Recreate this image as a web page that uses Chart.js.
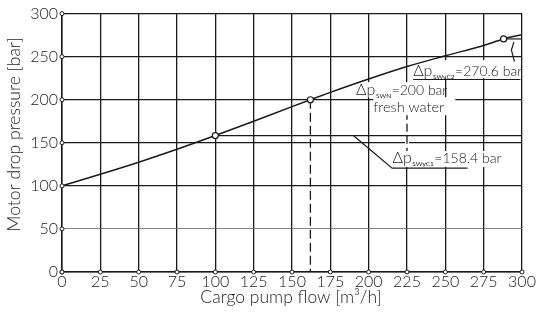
<!DOCTYPE html>
<html><head><meta charset="utf-8">
<script src="https://cdn.jsdelivr.net/npm/chart.js@4.4.0/dist/chart.umd.min.js"></script>
<style>html,body{margin:0;padding:0;background:#fff;}canvas{display:block;}</style>
</head><body>
<canvas id="c" width="547" height="315"></canvas>
<script>
// ---- data ----
const flow      = [0, 25, 50, 75, 100, 125, 150, 162, 175, 200, 225, 250, 275, 288, 300];
const pressure  = [100, 113.5, 127.5, 142.5, 158.4, 175, 192, 200, 208.5, 224, 238.5, 251, 263, 270.6, 275.5];
const markFlow     = [100, 162, 288];
const markPressure = [158.4, 200, 270.6];
const xTickStep = 25, xMin = 0, xMax = 300;
const yTickStep = 50, yMin = 0, yMax = 300;
const xTitle = 'Cargo pump flow [m³/h]';
const yTitle = 'Motor drop pressure [bar]';

// ---- annotation layout (data units) ----
const notes = {
  labels: [
    {x: 229, y: 227,   main: 'Δp', sub: 'SWyC2', rest: '=270.6 bar'},
    {x: 191.8, y: 205.2, main: 'Δp', sub: 'SWN',  rest: '=200 bar'},
    {x: 203, y: 185.7, main: 'fresh water', sub: '', rest: ''},
    {x: 215.5, y: 126.1, main: 'Δp', sub: 'SWyC1', rest: '=158.4 bar'}
  ],
  masks: [
    [229, 298.5, 246, 225],
    [191, 249, 220.5, 202.5],
    [203, 256.5, 203, 182],
    [215, 277, 140.5, 122]
  ],
  lines: [
    [[190, 158.4], [215.3, 120.6], [264.5, 120.6]],
    [[229, 223.5], [299, 223.5]],
    [[294.7, 267.2], [293.1, 257.6], [295.1, 244.3]],
    [[100, 158.4], [300, 158.4]],
    [[288, 270.6], [300, 270.6]]
  ],
  dashed: [
    [[162, 200], [162, 0]]
  ],
  dashedGrid: {x: 225, from: 200, to: 121.5}
};

const ink = '#1a1a1a';
const FONT = 'Lato';
const W = '300';

const curve = flow.map((f, i) => ({x: f, y: pressure[i]}));
const marks = markFlow.map((f, i) => ({x: f, y: markPressure[i]}));

const deco = {
  id: 'deco',
  beforeDatasetsDraw(chart) {
    const {ctx, scales: {x, y}} = chart;
    const X = v => x.getPixelForValue(v), Y = v => y.getPixelForValue(v);
    ctx.save();
    const g = notes.dashedGrid;
    ctx.fillStyle = '#fff';
    ctx.fillRect(X(g.x) - 2, Y(g.from), 4, Y(g.to) - Y(g.from));
    ctx.strokeStyle = ink; ctx.lineWidth = 1.3;
    ctx.setLineDash([8, 4]);
    ctx.beginPath(); ctx.moveTo(X(g.x), Y(g.from)); ctx.lineTo(X(g.x), Y(g.to)); ctx.stroke();
    ctx.setLineDash([]);
    ctx.fillStyle = '#fff';
    for (const m of notes.masks) {
      const x0 = X(m[0]), x1 = X(m[1]), y0 = Y(m[2]), y1 = Y(m[3]);
      ctx.fillRect(x0, y0, x1 - x0, y1 - y0);
    }
    ctx.setLineDash([9, 4]);
    ctx.lineWidth = 1.3;
    for (const l of notes.dashed) {
      ctx.beginPath();
      l.forEach((p, i) => i ? ctx.lineTo(X(p[0]), Y(p[1])) : ctx.moveTo(X(p[0]), Y(p[1])));
      ctx.stroke();
    }
    ctx.setLineDash([]);
    ctx.lineWidth = 1.2;
    for (const l of notes.lines) {
      ctx.beginPath();
      l.forEach((p, i) => i ? ctx.lineTo(X(p[0]), Y(p[1])) : ctx.moveTo(X(p[0]), Y(p[1])));
      ctx.stroke();
    }
    ctx.restore();
  },
  afterDatasetsDraw(chart) {
    const {ctx, scales: {x, y}} = chart;
    const X = v => x.getPixelForValue(v), Y = v => y.getPixelForValue(v);
    ctx.save();
    ctx.fillStyle = ink;
    ctx.textBaseline = 'alphabetic';
    ctx.textAlign = 'left';
    for (const l of notes.labels) {
      let px = X(l.x); const py = Y(l.y);
      ctx.font = `${W} ${l.sub ? 16 : 14.5}px ${FONT}`;
      ctx.fillText(l.main, px, py); px += ctx.measureText(l.main).width;
      if (l.sub) {
        ctx.font = `400 6.5px ${FONT}`;
        ctx.fillText(l.sub, px + 0.5, py + 2.5); px += ctx.measureText(l.sub).width + 1;
      }
      if (l.rest) {
        ctx.font = `${W} 14px ${FONT}`;
        ctx.fillText(l.rest, px, py);
      }
    }
    ctx.restore();
  },
  afterDraw(chart) {
    const {ctx, chartArea: a, scales: {x, y}} = chart;
    ctx.save();
    ctx.strokeStyle = ink; ctx.fillStyle = '#fff'; ctx.lineWidth = 1;
    for (const t of y.ticks) {
      ctx.beginPath(); ctx.arc(a.left, y.getPixelForValue(t.value), 2, 0, Math.PI * 2); ctx.fill(); ctx.stroke();
    }
    for (const t of x.ticks) {
      ctx.beginPath(); ctx.arc(x.getPixelForValue(t.value), a.bottom, 2, 0, Math.PI * 2); ctx.fill(); ctx.stroke();
    }
    ctx.fillStyle = ink;
    ctx.font = `${W} 17.5px ${FONT}`;
    ctx.textAlign = 'center'; ctx.textBaseline = 'middle';
    ctx.fillText(xTitle, (a.left + a.right) / 2 - 1, 297.5);
    ctx.translate(14, (a.top + a.bottom) / 2 - 8.5);
    ctx.rotate(-Math.PI / 2);
    ctx.fillText(yTitle, 0, 0);
    ctx.restore();
  }
};

new Chart(document.getElementById('c'), {
  type: 'scatter',
  data: {
    datasets: [
      {data: marks, showLine: false, pointRadius: 3, pointBackgroundColor: '#fff',
       pointBorderColor: ink, pointBorderWidth: 1.2},
      {data: curve, showLine: true, borderColor: ink, borderWidth: 1.5, pointRadius: 0,
       cubicInterpolationMode: 'monotone', fill: false}
    ]
  },
  options: {
    responsive: false, devicePixelRatio: 1, animation: false,
    layout: {padding: {left: 0, right: 25, top: 10, bottom: 0}},
    plugins: {legend: {display: false}, tooltip: {enabled: false}},
    scales: {
      x: {
        type: 'linear', min: xMin, max: xMax,
        afterFit: s => { s.height = 43; },
        ticks: {stepSize: xTickStep, color: ink, padding: 0, font: {family: FONT, size: 16, weight: W}, maxRotation: 0},
        grid: {drawTicks: false, color: ink, lineWidth: 1.3},
        border: {color: ink, width: 1.5}
      },
      y: {
        type: 'linear', min: yMin, max: yMax,
        afterFit: s => { s.width = 62; },
        ticks: {stepSize: yTickStep, color: ink, padding: 4, font: {family: FONT, size: 16, weight: W}},
        grid: {drawTicks: false,
               color: c => c.tick && c.tick.value === 50 ? '#666' : ink,
               lineWidth: c => c.tick && c.tick.value === 50 ? 0.8 : 1.3},
        border: {color: ink, width: 1.5}
      }
    }
  },
  plugins: [deco]
});
</script>
</body></html>
